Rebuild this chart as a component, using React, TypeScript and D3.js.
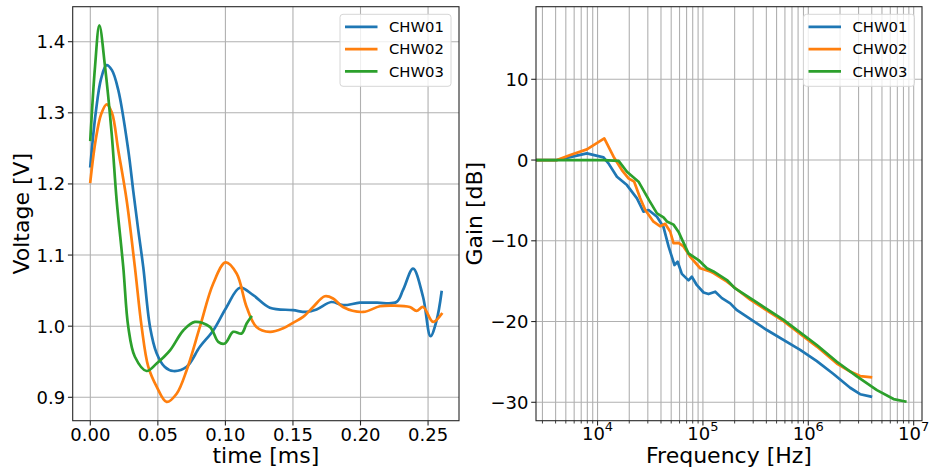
import React from 'react';
import * as d3 from 'd3';

const seriesNames = ['CHW01', 'CHW02', 'CHW03'];
const seriesColors = ['#1f77b4', '#ff7f0e', '#2ca02c'];

// Left: time [ms] vs voltage [V]
const timeCHW01 = [0, 0.004, 0.008, 0.012, 0.016, 0.0207, 0.0281, 0.0318, 0.0355, 0.0392, 0.0442, 0.0491, 0.055, 0.0614, 0.0713, 0.0811, 0.091, 0.1009, 0.1107, 0.1206, 0.1329, 0.150, 0.160, 0.1675, 0.1785, 0.187, 0.1995, 0.212, 0.2266, 0.2315, 0.2389, 0.2463, 0.2518, 0.2563, 0.260];
const voltCHW01 = [1.225, 1.30, 1.348, 1.367, 1.36, 1.332, 1.2475, 1.19, 1.135, 1.083, 0.999, 0.962, 0.943, 0.937, 0.943, 0.971, 0.994, 1.027, 1.054, 1.0436, 1.026, 1.0225, 1.020, 1.0235, 1.034, 1.0295, 1.033, 1.033, 1.034, 1.051, 1.081, 1.041, 0.986, 1.008, 1.048];

const timeCHW02 = [0, 0.004, 0.008, 0.0121, 0.016, 0.0207, 0.0269, 0.033, 0.038, 0.0429, 0.0491, 0.0565, 0.0639, 0.0713, 0.0811, 0.091, 0.1001, 0.1083, 0.1157, 0.123, 0.1329, 0.1428, 0.150, 0.1575, 0.1649, 0.1736, 0.1797, 0.187, 0.202, 0.2143, 0.2241, 0.2365, 0.2414, 0.2463, 0.2537, 0.260];
const voltCHW02 = [1.203, 1.262, 1.298, 1.312, 1.30, 1.2475, 1.177, 1.083, 0.999, 0.943, 0.915, 0.8935, 0.905, 0.938, 0.999, 1.060, 1.0896, 1.074, 1.027, 0.999, 0.992, 0.997, 1.0047, 1.013, 1.027, 1.042, 1.039, 1.027, 1.020, 1.028, 1.029, 1.027, 1.0215, 1.027, 1.006, 1.017];

const timeCHW03 = [0, 0.0035, 0.0067, 0.0109, 0.0158, 0.0195, 0.0244, 0.0281, 0.033, 0.0417, 0.0491, 0.059, 0.0688, 0.0774, 0.0885, 0.0947, 0.0996, 0.1058, 0.112, 0.1157, 0.119];
const voltCHW03 = [1.262, 1.365, 1.423, 1.365, 1.271, 1.177, 1.083, 0.999, 0.957, 0.937, 0.9475, 0.966, 0.994, 1.006, 0.999, 0.978, 0.9757, 0.992, 0.9897, 1.0038, 1.013];

// Right: frequency [Hz] vs gain [dB]
const freqCHW01 = [2606, 4121, 5623, 7925, 11400, 12700, 15280, 19010, 23660, 27290, 30480, 36640, 42270, 47210, 53700, 57540, 63100, 72950, 78520, 87700, 101400, 113000, 130900, 151400, 181600, 210400, 404600, 837500, 1205000, 1734000, 2495000, 3105000, 3926000];
const gainCHW01 = [0, 0, 0.4, 0.83, 0.33, -0.41, -2.07, -3.1, -4.74, -6.4, -6.19, -7.02, -8.3, -10.7, -13.0, -12.6, -14.1, -14.9, -14.45, -15.5, -16.4, -16.6, -16.3, -17.1, -17.75, -18.6, -21.05, -23.5, -24.9, -26.5, -28.2, -29.0, -29.3];

const freqCHW02 = [2606, 4121, 5508, 7925, 11590, 14190, 17020, 19680, 22280, 25410, 28380, 33960, 39360, 43850, 48980, 52600, 58750, 65460, 75860, 94190, 117200, 125900, 169000, 281200, 582100, 1205000, 1866000, 2495000, 3105000, 3926000];
const gainCHW02 = [0, 0, 0.62, 1.32, 2.68, 0.41, -1.24, -2.27, -2.68, -4.74, -6.19, -7.64, -8.2, -7.9, -8.88, -10.3, -10.25, -10.7, -12.0, -13.4, -13.8, -14.0, -15.07, -17.3, -19.96, -23.1, -25.2, -26.2, -26.75, -26.9];

const freqCHW03 = [2606, 11400, 15850, 19010, 24490, 30900, 36640, 42270, 45500, 52600, 58750, 63100, 72950, 90780, 109100, 125900, 169000, 202300, 281200, 582100, 1205000, 1866000, 2891000, 4477000, 6442000, 8318000];
const gainCHW03 = [0, 0, -0.1, -1.45, -2.68, -5.0, -6.6, -7.1, -7.6, -8.0, -8.9, -9.8, -11.56, -12.38, -13.4, -13.8, -14.86, -15.9, -17.1, -19.8, -22.9, -24.98, -26.8, -28.5, -29.6, -29.9];

const timeTicks = [0, 0.05, 0.1, 0.15, 0.2, 0.25];
const voltTicks = [0.9, 1.0, 1.1, 1.2, 1.3, 1.4];
const freqExponents = [4, 5, 6, 7];
const gainTicks = [10, 0, -10, -20, -30];

const FONT = 'DejaVu Sans, sans-serif';
const GRID = '#b0b0b0';
const SPINE = '#262626';

type Pt = [number, number];

function Legend({ x, y }: { x: number; y: number }) {
  const w = 111;
  const h = 72;
  return (
    <g transform={`translate(${x},${y})`}>
      <rect x={0} y={0} width={w} height={h} rx={3} ry={3} fill="white" fillOpacity={0.8} stroke="#d6d6d6" strokeWidth={1} />
      {seriesNames.map((n, i) => (
        <g key={n} transform={`translate(0,${12.5 + i * 22.3})`}>
          <line x1={5} x2={37.5} y1={0} y2={0} stroke={seriesColors[i]} strokeWidth={2.7} />
          <text x={49} y={5.3} fontSize={14.8} fontFamily={FONT} fill="#000">{n}</text>
        </g>
      ))}
    </g>
  );
}

export default function App() {
  const L = { x0: 72.7, x1: 459, y0: 6.7, y1: 420.7 };
  const R = { x0: 536, x1: 922, y0: 6.7, y1: 420.7 };

  const xT = d3.scaleLinear().domain([-0.01303, 0.2729]).range([L.x0, L.x1]);
  const yV = d3.scaleLinear().domain([0.8671, 1.4492]).range([L.y1, L.y0]);

  const xF = d3.scaleLog().domain([Math.pow(10, 3.416), Math.pow(10, 7.079)]).range([R.x0, R.x1]);
  const yG = d3.scaleLinear().domain([-32.28, 18.99]).range([R.y1, R.y0]);

  const leftSeries: Pt[][] = [
    timeCHW01.map((t, i) => [t, voltCHW01[i]] as Pt),
    timeCHW02.map((t, i) => [t, voltCHW02[i]] as Pt),
    timeCHW03.map((t, i) => [t, voltCHW03[i]] as Pt),
  ];
  const rightSeries: Pt[][] = [
    freqCHW01.map((f, i) => [f, gainCHW01[i]] as Pt),
    freqCHW02.map((f, i) => [f, gainCHW02[i]] as Pt),
    freqCHW03.map((f, i) => [f, gainCHW03[i]] as Pt),
  ];

  const lineL = d3.line<Pt>().x(d => xT(d[0])).y(d => yV(d[1])).curve(d3.curveCatmullRom.alpha(0.5));
  const lineR = d3.line<Pt>().x(d => xF(d[0])).y(d => yG(d[1])).curve(d3.curveLinear);

  const [fd0, fd1] = xF.domain();
  const minorF: number[] = [];
  for (let e = 3; e <= 7; e++) {
    for (let k = 2; k <= 9; k++) {
      const v = k * Math.pow(10, e);
      if (v >= fd0 && v <= fd1) minorF.push(v);
    }
  }
  const majorF = freqExponents.map(e => Math.pow(10, e));

  const fmt2 = d3.format('.2f');
  const fmt1 = d3.format('.1f');
  const minus = (v: number) => (v < 0 ? '\u2212' + Math.abs(v) : String(v));

  return (
    <svg width={929} height={472} style={{ position: 'absolute', left: 0, top: 0, background: 'white' }} fontFamily={FONT}>
      <rect x={0} y={0} width={929} height={472} fill="white" />
      <defs>
        <clipPath id="clipL"><rect x={L.x0} y={L.y0} width={L.x1 - L.x0} height={L.y1 - L.y0} /></clipPath>
        <clipPath id="clipR"><rect x={R.x0} y={R.y0} width={R.x1 - R.x0} height={R.y1 - R.y0} /></clipPath>
      </defs>
      {/* ---------- LEFT PANEL ---------- */}
      <g>
        {timeTicks.map(t => (
          <line key={'gx' + t} x1={xT(t)} x2={xT(t)} y1={L.y0} y2={L.y1} stroke={GRID} strokeWidth={1.1} />
        ))}
        {voltTicks.map(v => (
          <line key={'gy' + v} x1={L.x0} x2={L.x1} y1={yV(v)} y2={yV(v)} stroke={GRID} strokeWidth={1.1} />
        ))}
        <g clipPath="url(#clipL)">
          {leftSeries.map((s, i) => (
            <path key={i} d={lineL(s) || ''} fill="none" stroke={seriesColors[i]} strokeWidth={2.7} strokeLinejoin="round" strokeLinecap="square" />
          ))}
        </g>
        <rect x={L.x0} y={L.y0} width={L.x1 - L.x0} height={L.y1 - L.y0} fill="none" stroke={SPINE} strokeWidth={1.1} />
        {timeTicks.map(t => (
          <g key={'tx' + t}>
            <line x1={xT(t)} x2={xT(t)} y1={L.y1} y2={L.y1 + 4.8} stroke={SPINE} strokeWidth={1.1} />
            <text x={xT(t)} y={440.5} fontSize={18} textAnchor="middle" fill="#000">{fmt2(t)}</text>
          </g>
        ))}
        {voltTicks.map(v => (
          <g key={'ty' + v}>
            <line x1={L.x0 - 4.8} x2={L.x0} y1={yV(v)} y2={yV(v)} stroke={SPINE} strokeWidth={1.1} />
            <text x={L.x0 - 7.5} y={yV(v) + 6.5} fontSize={18} textAnchor="end" fill="#000">{fmt1(v)}</text>
          </g>
        ))}
        <text x={(L.x0 + L.x1) / 2} y={463} fontSize={22} textAnchor="middle" fill="#000">time [ms]</text>
        <text transform={`translate(29,${(L.y0 + L.y1) / 2}) rotate(-90)`} fontSize={22} textAnchor="middle" fill="#000">Voltage [V]</text>
        <Legend x={340} y={14.3} />
      </g>

      {/* ---------- RIGHT PANEL ---------- */}
      <g>
        {minorF.map(f => (
          <line key={'gmf' + f} x1={xF(f)} x2={xF(f)} y1={R.y0} y2={R.y1} stroke={GRID} strokeWidth={1.1} />
        ))}
        {majorF.filter(f => f <= fd1).map(f => (
          <line key={'gMf' + f} x1={xF(f)} x2={xF(f)} y1={R.y0} y2={R.y1} stroke={GRID} strokeWidth={1.1} />
        ))}
        {gainTicks.map(g => (
          <line key={'gg' + g} x1={R.x0} x2={R.x1} y1={yG(g)} y2={yG(g)} stroke={GRID} strokeWidth={1.1} />
        ))}
        <g clipPath="url(#clipR)">
          {rightSeries.map((s, i) => (
            <path key={i} d={lineR(s) || ''} fill="none" stroke={seriesColors[i]} strokeWidth={2.7} strokeLinejoin="round" strokeLinecap="square" />
          ))}
        </g>
        <rect x={R.x0} y={R.y0} width={R.x1 - R.x0} height={R.y1 - R.y0} fill="none" stroke={SPINE} strokeWidth={1.1} />
        {minorF.map(f => (
          <line key={'tmf' + f} x1={xF(f)} x2={xF(f)} y1={R.y1} y2={R.y1 + 2.8} stroke={SPINE} strokeWidth={0.9} />
        ))}
        {freqExponents.map(e => {
          const f = Math.pow(10, e);
          const x = xF(f);
          return (
            <g key={'tf' + e}>
              <line x1={x} x2={x} y1={R.y1} y2={R.y1 + 4.8} stroke={SPINE} strokeWidth={1.1} />
              <text x={x} y={439.5} fontSize={18} textAnchor="middle" fill="#000">
                <tspan>10</tspan>
                <tspan dy={-8.5} fontSize={13}>{e}</tspan>
              </text>
            </g>
          );
        })}
        {gainTicks.map(g => (
          <g key={'tg' + g}>
            <line x1={R.x0 - 4.8} x2={R.x0} y1={yG(g)} y2={yG(g)} stroke={SPINE} strokeWidth={1.1} />
            <text x={R.x0 - 7.5} y={yG(g) + 6.5} fontSize={18} textAnchor="end" fill="#000">{minus(g)}</text>
          </g>
        ))}
        <text x={(R.x0 + R.x1) / 2} y={463} fontSize={22} textAnchor="middle" fill="#000">Frequency [Hz]</text>
        <text transform={`translate(482,${(R.y0 + R.y1) / 2}) rotate(-90)`} fontSize={22} textAnchor="middle" fill="#000">Gain [dB]</text>
        <Legend x={803.5} y={14.3} />
      </g>
    </svg>
  );
}
